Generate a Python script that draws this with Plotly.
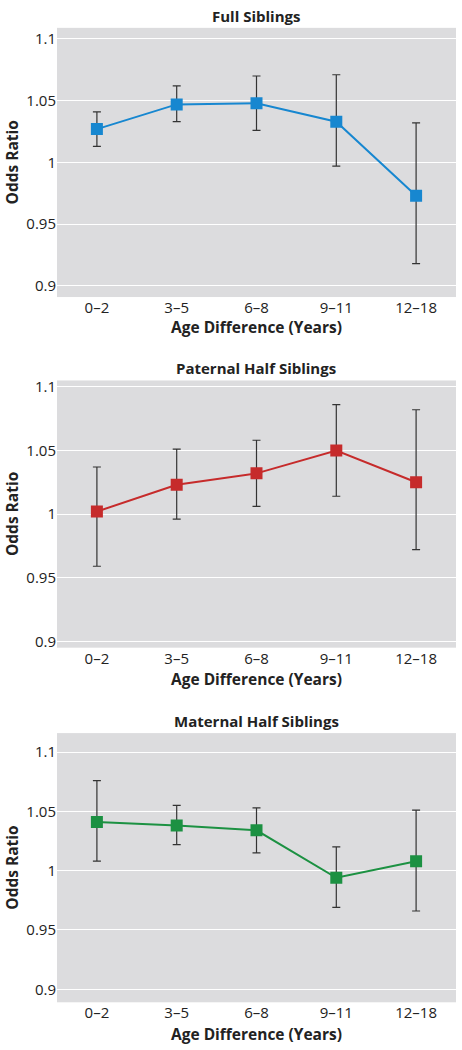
import plotly.graph_objects as go

categories = ["0–2", "3–5", "6–8", "9–11", "12–18"]

full_or = [1.027, 1.047, 1.048, 1.033, 0.973]
full_lo = [1.013, 1.033, 1.026, 0.997, 0.918]
full_hi = [1.041, 1.062, 1.070, 1.071, 1.032]

pat_or = [1.002, 1.023, 1.032, 1.050, 1.025]
pat_lo = [0.959, 0.996, 1.006, 1.014, 0.972]
pat_hi = [1.037, 1.051, 1.058, 1.086, 1.082]

mat_or = [1.041, 1.038, 1.034, 0.994, 1.008]
mat_lo = [1.008, 1.022, 1.015, 0.969, 0.966]
mat_hi = [1.076, 1.055, 1.053, 1.020, 1.051]

titles = ["Full Siblings", "Paternal Half Siblings", "Maternal Half Siblings"]
colors = ["#1787d0", "#c62b2b", "#1c9142"]
y_ticks = [0.9, 0.95, 1.0, 1.05, 1.1]
y_tick_text = ["0.9", "0.95", "1", "1.05", "1.1"]

H = 1050.0
W = 462.0
# pixel boxes (top, bottom) of each plot area
boxes = [(24, 295), (379, 648), (734, 1005)]
ranges = [[0.891, 1.109], [0.895, 1.105], [0.889, 1.116]]
title_y = [12, 366, 722]
xtitle_y = [325, 680, 1037]
x_left, x_right, x_mid, y_title_x = 57, 456, 256, 12


def px(v):
    return v / W


def py(v):
    return 1 - v / H


series = [(full_or, full_lo, full_hi), (pat_or, pat_lo, pat_hi), (mat_or, mat_lo, mat_hi)]

fig = go.Figure()
font_family = "Open Sans, Noto Sans, sans-serif"

for i, (vals, lo, hi) in enumerate(series):
    ax = "" if i == 0 else str(i + 1)
    fig.add_trace(go.Scatter(
        x=categories, y=vals,
        mode="lines+markers",
        line=dict(color=colors[i], width=2),
        marker=dict(symbol="square", size=12, color=colors[i]),
        error_y=dict(type="data", symmetric=False,
                     array=[h - v for h, v in zip(hi, vals)],
                     arrayminus=[v - l for v, l in zip(vals, lo)],
                     color="#333333", thickness=1.2, width=4),
        xaxis="x" + ax, yaxis="y" + ax, showlegend=False,
    ))
    top, bot = boxes[i]
    fig.layout["xaxis" + ax] = dict(
        domain=[px(x_left), px(x_right)], anchor="y" + ax,
        type="category", range=[-0.5, 4.5],
        showgrid=False, zeroline=False, showline=False, ticks="",
        tickfont=dict(size=15, color="#222", family=font_family),
    )
    fig.layout["yaxis" + ax] = dict(
        domain=[py(bot), py(top)], anchor="x" + ax, range=ranges[i],
        tickvals=y_ticks, ticktext=y_tick_text,
        showgrid=True, gridcolor="white", gridwidth=1.2,
        zeroline=False, showline=False, ticks="",
        tickfont=dict(size=15, color="#222", family=font_family),
    )
    fig.add_annotation(text="<b>" + titles[i] + "</b>", x=px(x_mid), y=py(title_y[i]),
                       xref="paper", yref="paper", showarrow=False,
                       xanchor="center", yanchor="middle",
                       font=dict(size=15, color="#222", family=font_family))
    fig.add_annotation(text="<b>Age Difference (Years)</b>", x=px(x_mid), y=py(xtitle_y[i]),
                       xref="paper", yref="paper", showarrow=False,
                       xanchor="center", yanchor="middle",
                       font=dict(size=15.5, color="#222", family=font_family))
    fig.add_annotation(text="<b>Odds Ratio</b>", x=px(y_title_x), y=py((top + bot) / 2),
                       xref="paper", yref="paper", showarrow=False, textangle=-90,
                       xanchor="center", yanchor="middle",
                       font=dict(size=15.5, color="#222", family=font_family))

fig.update_layout(
    width=462, height=1050,
    margin=dict(l=0, r=0, t=0, b=0),
    paper_bgcolor="white", plot_bgcolor="#dcdcde",
    hovermode=False,
)

fig.write_html("out.html", config={"displayModeBar": False},
               post_script="document.body.style.margin='0';")
